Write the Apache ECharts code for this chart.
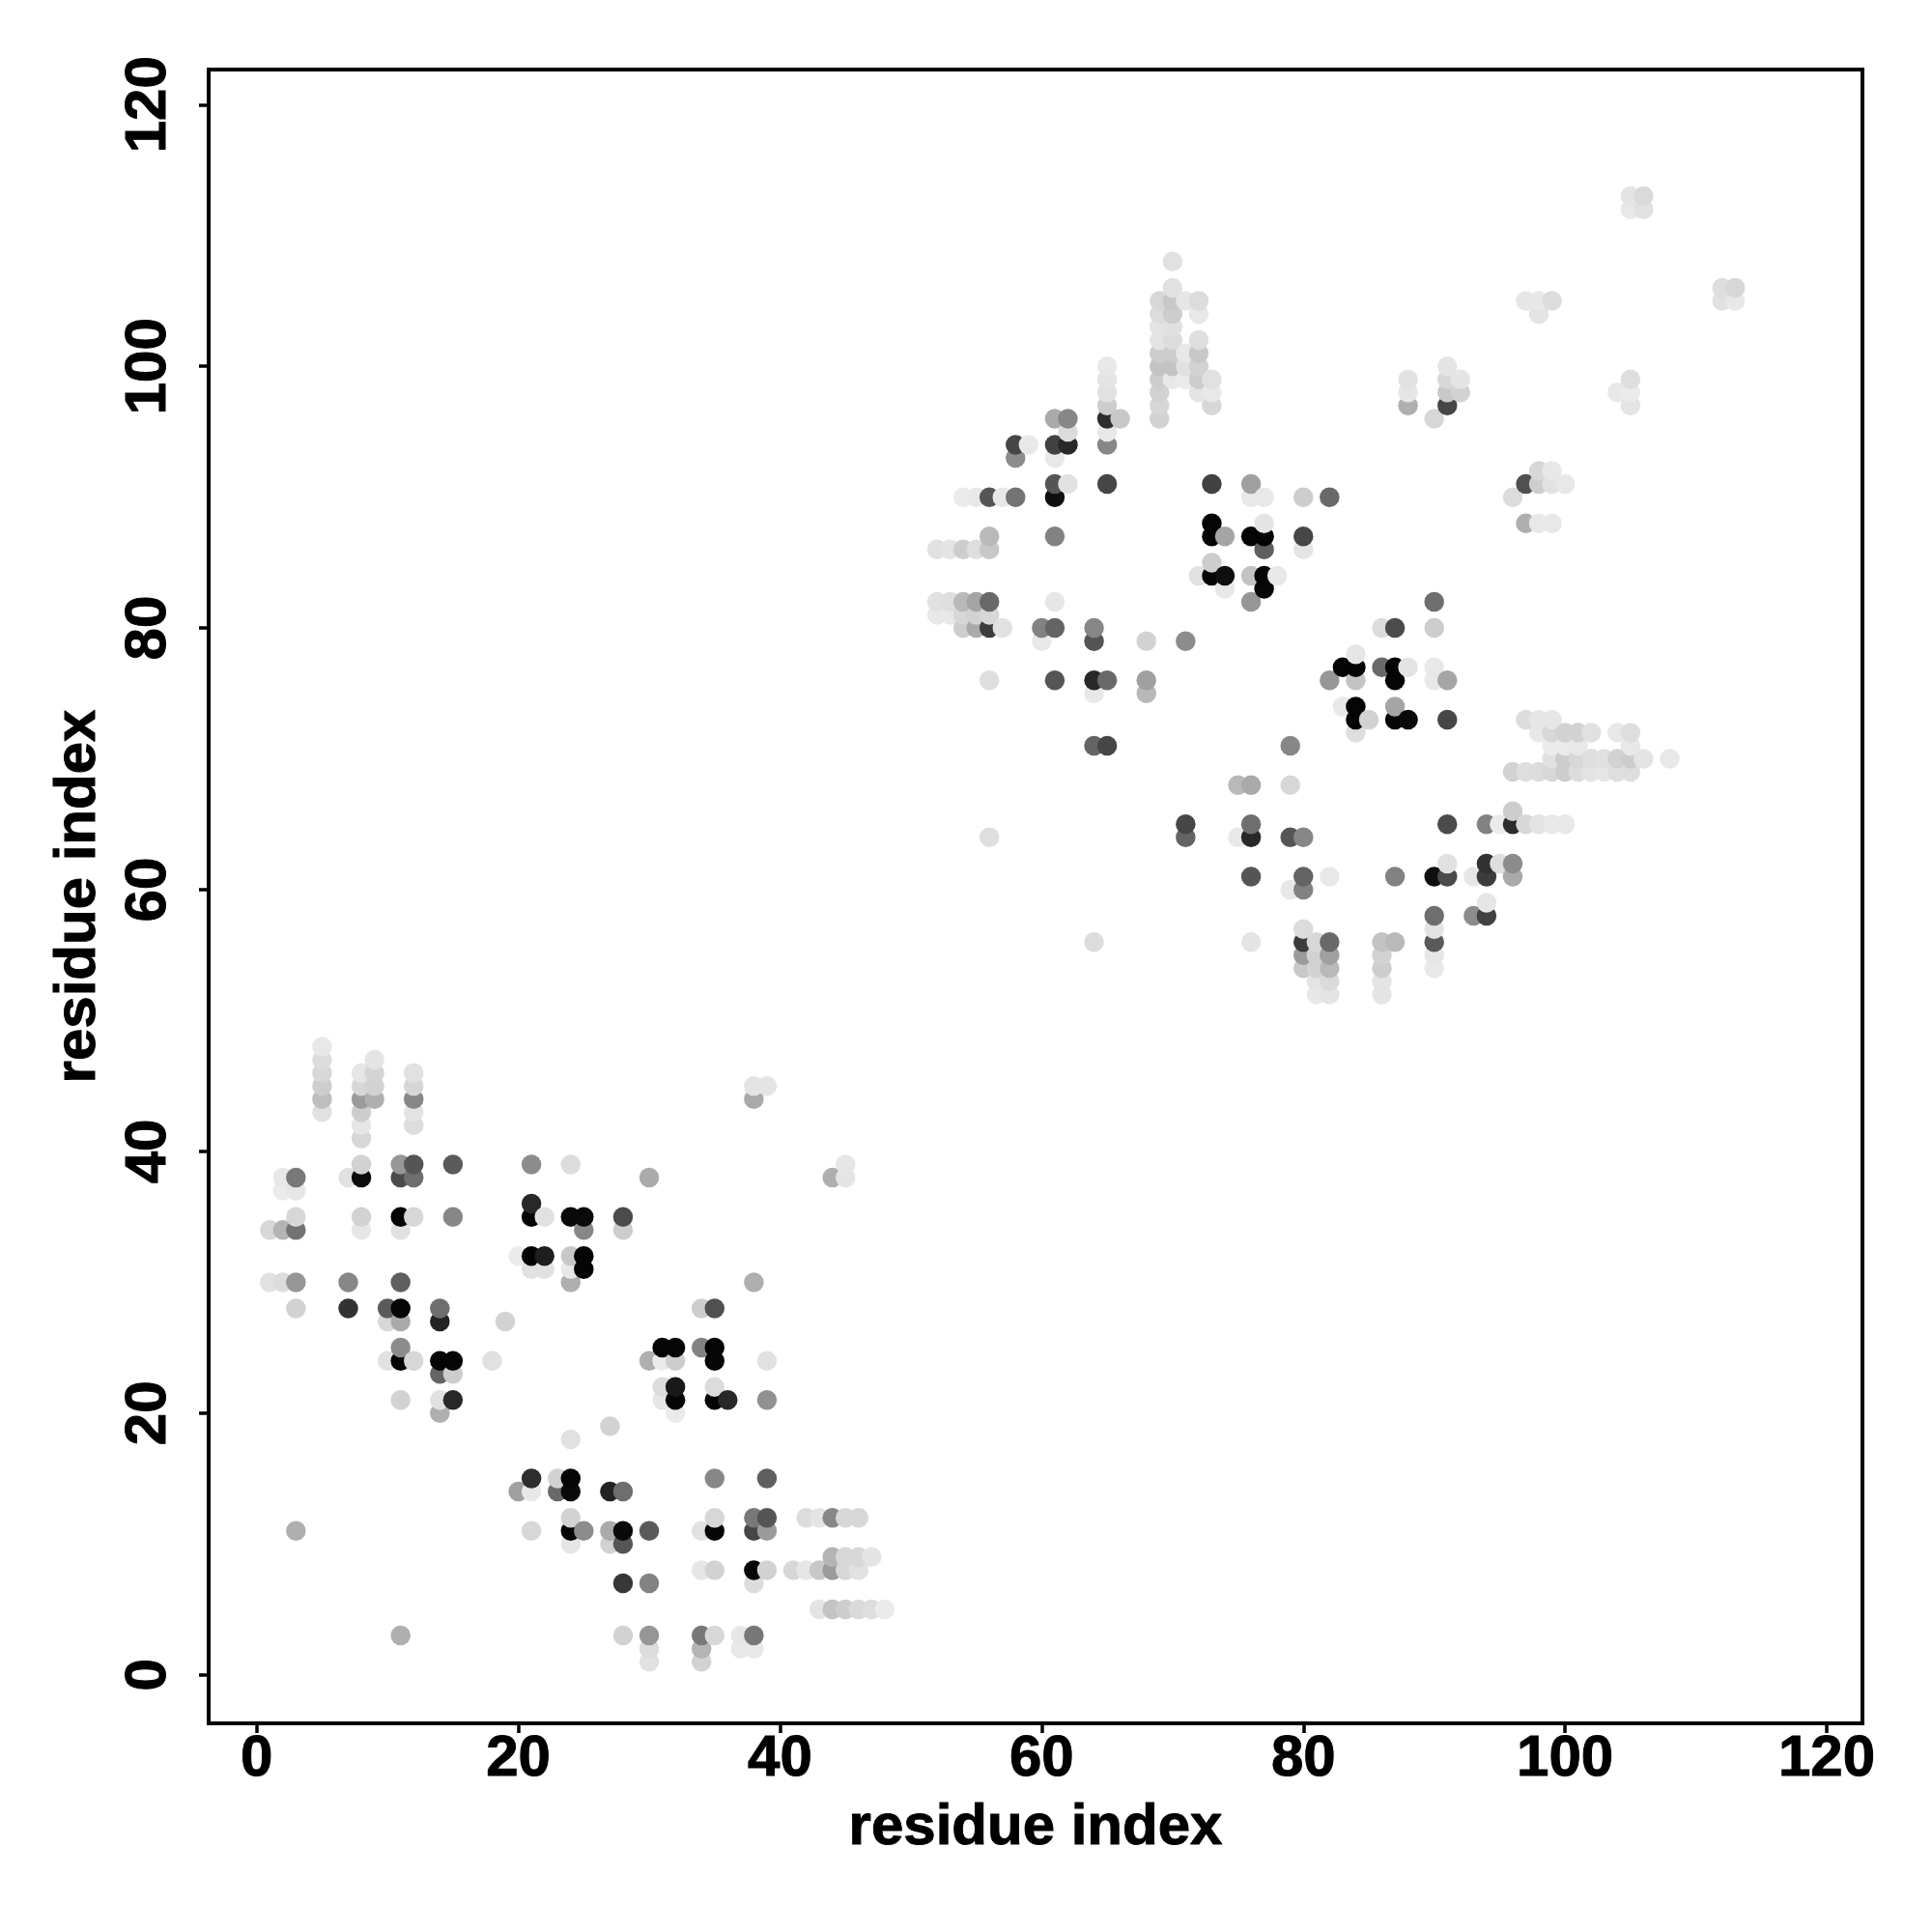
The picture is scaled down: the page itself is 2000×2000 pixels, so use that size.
<!DOCTYPE html>
<html>
<head>
<meta charset="utf-8">
<style>html,body{margin:0;padding:0;background:#fff}#c{width:2000px;height:2000px}</style>
<script src="https://cdn.jsdelivr.net/npm/echarts@6/dist/echarts.min.js"></script>
</head>
<body>
<div id="c"></div>
<script>
const tickValues = [0, 20, 40, 60, 80, 100, 120];
const axisTitle = "residue index";
// each contact: [residue x, residue y, grey level]
const lowerDomainRows = [
[5,48,232],[5,47,220],[9,47,228],[5,46,215],[8,46,230],[9,46,212],[12,46,225],
[5,45,205],[8,45,215],[9,45,210],[12,45,215],[38,45,228],[39,45,228],
[5,44,190],[8,44,155],[9,44,175],[12,44,135],[38,44,170],
[5,43,225],[8,43,205],[12,43,228],[8,42,230],[12,42,220],[8,41,215],
[8,39,210],[11,39,150],[12,39,85],[15,39,90],[21,39,140],[24,39,220],[45,39,230],
[2,38,232],[3,38,120],[7,38,225],[8,38,12],[11,38,75],[12,38,110],[30,38,170],[44,38,175],[45,38,228],
[2,37,235],[3,37,230],[21,36,40],
[3,35,215],[8,35,210],[11,35,5],[12,35,215],[15,35,135],[21,35,5],[22,35,225],[24,35,10],[25,35,10],[28,35,75],
[1,34,215],[2,34,180],[3,34,115],[8,34,230],[11,34,225],[25,34,135],[28,34,205],
[20,32,235],[21,32,5],[22,32,30],[24,32,200],[25,32,5],
[21,31,225],[22,31,225],[24,31,232],[25,31,5],
[1,30,225],[2,30,220],[3,30,150],[7,30,135],[11,30,95],[24,30,175],[38,30,175],
[3,28,210],[7,28,50],[10,28,90],[11,28,5],[14,28,110],[34,28,205],[35,28,80],
[10,27,215],[11,27,170],[14,27,35],[19,27,210],
[11,25,140],[31,25,5],[32,25,5],[34,25,130],[35,25,5],
[10,24,225],[11,24,5],[12,24,215],[14,24,5],[15,24,5],[18,24,225],[30,24,175],[31,24,235],[32,24,205],[35,24,5],[39,24,225],
[14,23,100],[15,23,205],[31,22,220],[32,22,25],[35,22,220],
[11,21,210],[14,21,225],[15,21,40],[31,21,230],[32,21,5],[35,21,5],[36,21,40],[39,21,145],
[14,20,175],[32,20,235],[27,19,210],[24,18,225],
[21,15,45],[23,15,210],[24,15,5],[35,15,135],[39,15,95],
[20,14,160],[21,14,232],[23,14,105],[24,14,10],[27,14,35],[28,14,110],
[24,12,210],[35,12,215],[38,12,120],[39,12,85],[42,12,220],[43,12,228],[44,12,135],[45,12,215],[46,12,215],
[3,11,175],[21,11,215],[24,11,5],[25,11,140],[27,11,170],[28,11,10],[30,11,90],[34,11,225],[35,11,5],[38,11,70],[39,11,155],
[24,10,230],[27,10,210],[28,10,85],
[44,9,180],[45,9,215],[46,9,215],[47,9,228],
[34,8,230],[35,8,210],[38,8,5],[39,8,210],[41,8,215],[42,8,230],[43,8,200],[44,8,155],[45,8,215],[46,8,225],
[28,7,55],[30,7,130],[38,7,220],
[43,5,228],[44,5,195],[45,5,205],[46,5,218],[47,5,222],[48,5,235],
[11,3,175],[28,3,210],[30,3,150],[34,3,120],[35,3,215],[37,3,230],[38,3,120],
[30,2,220],[34,2,180],[37,2,232],[38,2,232],[30,1,225],[34,1,210]
];
const upperDomainRows = [
[105,113,228],[106,113,218],[105,112,232],[106,112,225],[70,108,225],
[70,106,225],[112,106,222],[113,106,215],
[69,105,215],[70,105,200],[71,105,230],[72,105,220],[97,105,230],[98,105,232],[99,105,220],[112,105,225],[113,105,232],
[69,104,220],[70,104,205],[72,104,232],[98,104,228],
[69,103,228],[70,103,225],[69,102,228],[70,102,220],[72,102,222],
[69,101,205],[70,101,205],[71,101,232],[72,101,200],
[65,100,232],[69,100,195],[70,100,195],[71,100,225],[72,100,210],[91,100,228],
[65,99,228],[69,99,205],[70,99,232],[71,99,235],[72,99,205],[73,99,225],[88,99,225],[91,99,215],[92,99,228],[105,99,222],
[65,98,225],[69,98,210],[72,98,228],[73,98,232],[88,98,230],[91,98,200],[92,98,210],[104,98,232],[105,98,235],
[65,97,205],[69,97,215],[73,97,215],[88,97,175],[91,97,70],[105,97,228],
[61,96,170],[62,96,135],[65,96,45],[66,96,200],[69,96,210],[90,96,215],
[62,95,220],[65,95,232],
[58,94,70],[59,94,232],[61,94,65],[62,94,40],[65,94,135],
[58,93,140],[61,93,232],[98,92,215],[99,92,232],
[61,91,85],[62,91,225],[65,91,70],[73,91,65],[76,91,160],[97,91,80],[98,91,205],[99,91,225],[100,91,232],
[54,90,235],[55,90,232],[56,90,85],[57,90,232],[58,90,115],[61,90,15],[76,90,232],[77,90,232],[80,90,205],[82,90,105],[96,90,220],
[73,88,5],[77,88,228],[97,88,175],[98,88,232],[99,88,232],
[56,87,185],[61,87,130],[73,87,5],[74,87,165],[76,87,5],[77,87,5],[80,87,70],
[52,86,225],[53,86,228],[54,86,205],[55,86,222],[56,86,200],[77,86,95],[80,86,228],
[73,85,205],[72,84,225],[73,84,5],[74,84,15],[76,84,195],[77,84,5],[78,84,232],[74,83,232],[77,83,8],
[52,82,225],[53,82,222],[54,82,185],[55,82,165],[56,82,105],[61,82,230],[76,82,150],[90,82,110],
[52,81,232],[53,81,232],[54,81,215],[55,81,210],[56,81,215],
[54,80,205],[55,80,170],[56,80,60],[57,80,225],[60,80,130],[61,80,100],[64,80,135],[86,80,220],[87,80,75],[90,80,205],
[60,79,232],[64,79,85],[68,79,210],[71,79,140],[84,78,230],
[83,77,5],[84,77,5],[86,77,105],[87,77,5],[88,77,228],[90,77,232],
[56,76,222],[61,76,85],[64,76,40],[65,76,105],[68,76,160],[82,76,150],[84,76,195],[87,76,5],[90,76,232],[91,76,165],
[64,75,232],[68,75,185],[83,74,232],[84,74,5],[87,74,165],
[84,73,5],[85,73,210],[87,73,5],[88,73,10],[91,73,70],[97,73,220],[98,73,230],[99,73,230],
[84,72,222],[98,72,232],[99,72,215],[100,72,210],[101,72,210],[102,72,225],[104,72,232],[105,72,222],
[64,71,100],[65,71,70],[79,71,135],[99,71,235],[100,71,235],[101,71,232],[105,71,232],
[99,70,225],[100,70,205],[101,70,215],[102,70,222],[103,70,225],[104,70,210],[105,70,205],[106,70,228],[108,70,232],
[96,69,210],[97,69,222],[98,69,220],[99,69,215],[100,69,205],[101,69,220],[102,69,228],[103,69,230],[104,69,222],[105,69,222],
[75,68,185],[76,68,170],[79,68,215],[96,66,205],
[71,65,70],[76,65,110],[91,65,75],[94,65,130],[95,65,235],[96,65,45],[97,65,215],[98,65,228],[99,65,232],[100,65,232],
[56,64,222],[71,64,100],[75,64,232],[76,64,40],[79,64,85],[80,64,135],
[91,62,225],[94,62,50],[95,62,222],[96,62,140],
[76,61,85],[80,61,100],[82,61,232],[87,61,130],[90,61,15],[91,61,75],[93,61,230],[94,61,60],[96,61,170],
[79,60,232],[80,60,130],[94,59,230],[90,58,110],[93,58,140],[94,58,65],[80,57,220],[90,57,228],
[64,56,220],[76,56,228],[80,56,60],[81,56,215],[82,56,105],[86,56,195],[87,56,185],[90,56,90],
[80,55,155],[81,55,210],[82,55,160],[86,55,210],[90,55,230],
[80,54,200],[81,54,210],[82,54,185],[86,54,205],[90,54,232],
[81,53,228],[82,53,218],[86,53,228],[81,52,232],[82,52,228],[86,52,228]
];
const contacts = lowerDomainRows.concat(upperDomainRows)
  .sort((a, b) => a[0] - b[0] || a[1] - b[1]);

const heavyText = {fontFamily: 'Liberation Sans', fontWeight: 'bold', fontSize: 60, color: '#000', textBorderColor: '#000', textBorderWidth: 1};
const makeAxis = (min, max, rotate, margin, nameGap, nameRotate) => ({
  type: 'value', min, max,
  name: axisTitle, nameLocation: 'middle', nameGap, nameRotate,
  nameTextStyle: heavyText,
  splitLine: {show: false},
  axisLine: {show: false, onZero: false},
  axisTick: {show: true, length: 10, lineStyle: {color: '#000', width: 3.5}, customValues: tickValues},
  axisLabel: Object.assign({show: true, rotate, margin, customValues: tickValues}, heavyText)
});

const chart = echarts.init(document.getElementById('c'), null, {renderer: 'canvas'});
chart.setOption({
  animation: false,
  backgroundColor: '#fff',
  grid: {left: 216, top: 72, width: 1712, height: 1712, show: true, borderColor: '#000', borderWidth: 4, backgroundColor: 'transparent', containLabel: false},
  xAxis: makeAxis(-3.67, 122.73, 0, 7, 78, 0),
  yAxis: makeAxis(-3.71, 122.68, 90, 32, 105, 90),
  series: [{
    type: 'scatter',
    data: contacts,
    symbol: 'circle',
    symbolSize: 20.5,
    clip: false,
    silent: true,
    progressive: 0,
    large: false,
    itemStyle: {opacity: 1, color: p => { const g = p.value[2]; return `rgb(${g},${g},${g})`; }}
  }]
});
</script>
</body>
</html>
